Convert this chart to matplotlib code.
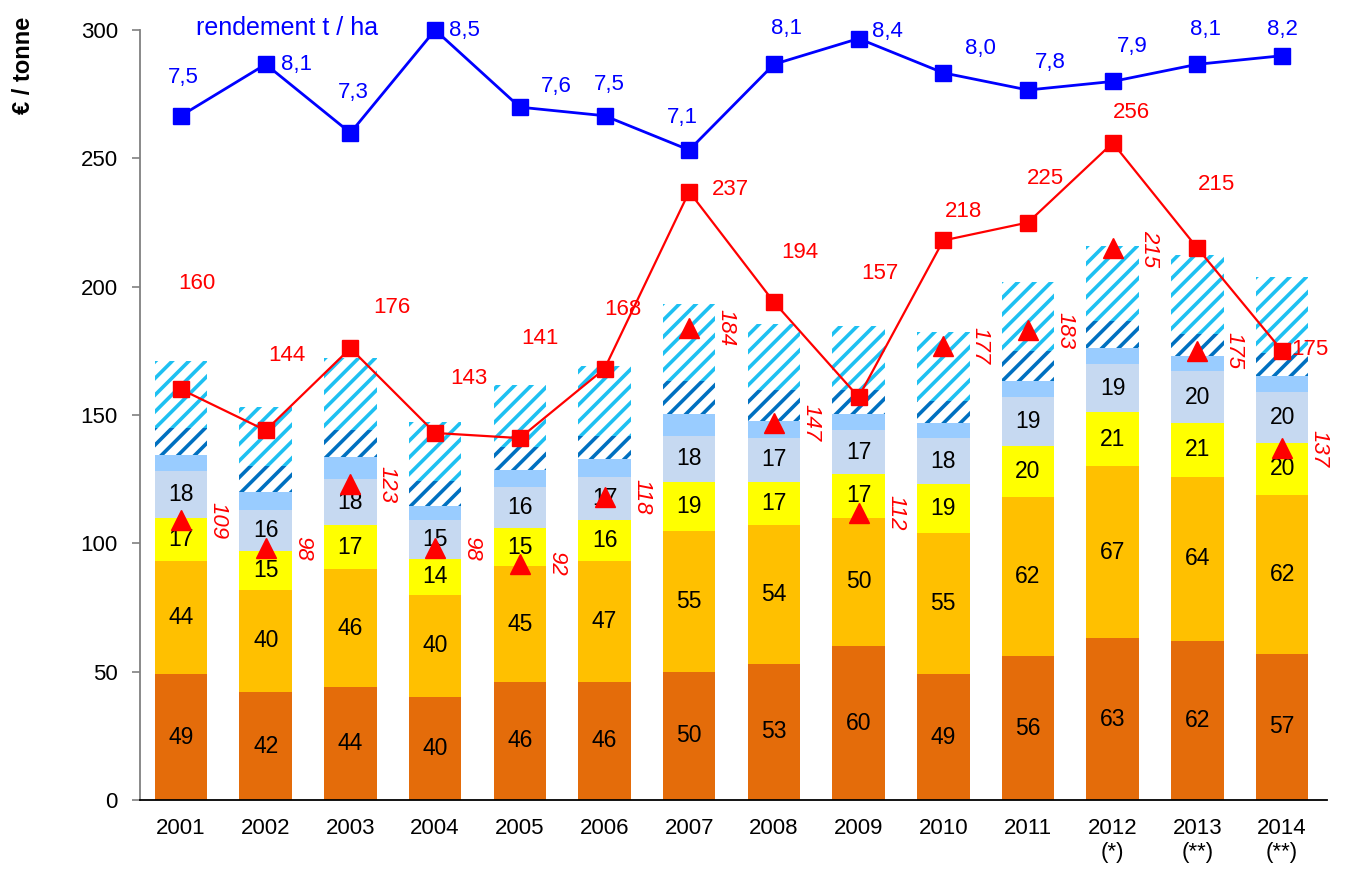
import matplotlib
matplotlib.use('Agg')
import matplotlib.pyplot as plt
import numpy as np

plt.rcParams['font.family'] = ['Liberation Sans', 'DejaVu Sans']
plt.rcParams['hatch.linewidth'] = 2.6

# ---------------- data ----------------
years = ['2001', '2002', '2003', '2004', '2005', '2006', '2007',
         '2008', '2009', '2010', '2011', '2012', '2013', '2014']
notes = ['', '', '', '', '', '', '', '', '', '', '', '(*)', '(**)', '(**)']

seg_dark_orange = [49, 42, 44, 40, 46, 46, 50, 53, 60, 49, 56, 63, 62, 57]
seg_orange = [44, 40, 46, 40, 45, 47, 55, 54, 50, 55, 62, 67, 64, 62]
seg_yellow = [17, 15, 17, 14, 15, 16, 19, 17, 17, 19, 20, 21, 21, 20]
seg_grey_blue = [18, 16, 18, 15, 16, 17, 18, 17, 17, 18, 19, 19, 20, 20]
seg_light_blue = [6.5, 7, 8.5, 5.6, 6.5, 7, 8.4, 6.6, 6.3, 5.7, 6.3, 6, 6, 6.3]
seg_dark_hatch = [10.5, 10, 10.6, 9.6, 9, 9, 13, 12, 9.5, 8.8, 11.6, 10.7, 8.4, 9]
seg_light_hatch = [26, 23, 28, 23, 24, 27, 30, 25.7, 25, 27, 27, 29, 31, 29.5]

price = [160, 144, 176, 143, 141, 168, 237, 194, 157, 218, 225, 256, 215, 175]
cost = [109, 98, 123, 98, 92, 118, 184, 147, 112, 177, 183, 215, 175, 137]
rendement = [7.5, 8.1, 7.3, 8.5, 7.6, 7.5, 7.1, 8.1, 8.4, 8.0, 7.8, 7.9, 8.1, 8.2]

# label offsets (pixels) - layout only
price_off = [(16, 106), (21, 75), (41, 41), (34, 54), (20, 100), (18, 59), (41, 2),
             (26, 50), (21, 124), (20, 29), (17, 44), (19, 30), (19, 64), (28, 1)]
rend_off = [(2, 38), (31, 0), (3, 40), (29, 0), (37, 21), (5, 31), (-7, 33),
            (13, 36), (29, 7), (37, 24), (22, 28), (20, 35), (8, 35), (0, 26)]

# ---------------- figure ----------------
W, H = 1345, 874
fig = plt.figure(figsize=(W / 100, H / 100), dpi=100)
ax = fig.add_axes([140 / W, 1 - 800 / H, (1327 - 140) / W, (800 - 30) / H])

x = np.arange(len(years))
bw = 0.62
segments = [
    (seg_dark_orange, dict(color='#E46C0A'), True),
    (seg_orange, dict(color='#FFC000'), True),
    (seg_yellow, dict(color='#FFFF00'), True),
    (seg_grey_blue, dict(color='#C6D9F1'), True),
    (seg_light_blue, dict(color='#99CCFF'), False),
    (seg_dark_hatch, dict(facecolor='white', edgecolor='#0070C0', hatch='//'), False),
    (seg_light_hatch, dict(facecolor='white', edgecolor='#1EC0F2', hatch='//'), False),
]
bottom = np.zeros(len(years))
for vals, style, labelled in segments:
    vals = np.array(vals, dtype=float)
    ax.bar(x, vals, bw, bottom=bottom, linewidth=0, zorder=2, **style)
    if labelled:
        for xi, b, v in zip(x, bottom, vals):
            ax.text(xi, b + v / 2, f'{int(v)}', ha='center', va='center',
                    fontsize=16.5, color='black', zorder=3)
    bottom += vals

# red price line
ax.plot(x, price, color='#FF0000', lw=1.6, marker='s', ms=11, zorder=5)
for xi, v, (dx, dy) in zip(x, price, price_off):
    ax.annotate(f'{v}', (xi, v), xytext=(dx, dy), textcoords='offset pixels',
                ha='center', va='center', fontsize=16, color='#FF0000', zorder=6)

# red triangles (cost)
ax.plot(x, cost, linestyle='none', marker='^', ms=14, color='#FF0000', zorder=5)
for xi, v in zip(x, cost):
    ax.annotate(f'{v}', (xi, v), xytext=(37, 0), textcoords='offset pixels',
                ha='center', va='center', fontsize=16, color='#FF0000',
                rotation=-90, style='italic', zorder=6)

# axes styling
ax.set_xlim(-0.484, 13.53)
ax.set_ylim(0, 300)
ax.set_yticks(np.arange(0, 301, 50))
ax.tick_params(axis='y', length=6, width=1.2, color='#808080', labelsize=16, pad=10)
ax.set_xticks(x)
ax.set_xticklabels([y + ('\n' + n if n else '') for y, n in zip(years, notes)])
ax.tick_params(axis='x', length=0, labelsize=16, pad=13)
for s in ['top', 'right']:
    ax.spines[s].set_visible(False)
ax.spines['left'].set_color('#808080')
ax.spines['left'].set_linewidth(1.3)
ax.spines['bottom'].set_color('black')
ax.spines['bottom'].set_linewidth(1.3)

# yield line on hidden secondary scale
ax2 = ax.twinx()
ax2.set_ylim(-0.482, 8.5)
ax2.axis('off')
ax2.plot(x, rendement, color='#0000FF', lw=2, marker='s', ms=12, zorder=5, clip_on=False)
for xi, v, (dx, dy) in zip(x, rendement, rend_off):
    ax2.annotate(f'{v:.1f}'.replace('.', ','), (xi, v), xytext=(dx, dy),
                 textcoords='offset pixels', ha='center', va='center',
                 fontsize=16, color='#0000FF', annotation_clip=False)

fig.text(287 / W, 1 - 28 / H, 'rendement t / ha', ha='center', va='center',
         fontsize=18, color='#0000FF')
fig.text(24 / W, 1 - 65 / H, '€ / tonne', ha='center', va='center', rotation=90,
         fontsize=17, fontweight='bold', color='black')

fig.savefig('out.png', dpi=100)
